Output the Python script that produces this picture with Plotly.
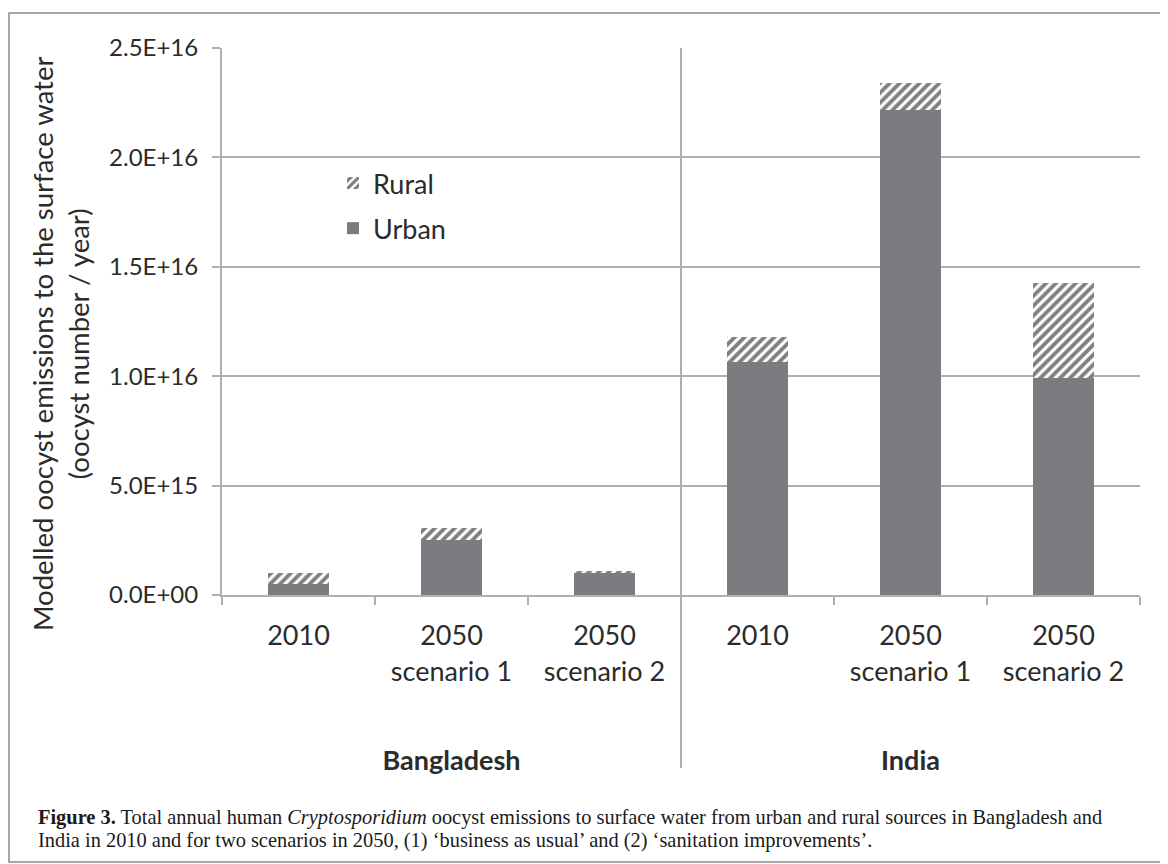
import plotly.graph_objects as go

# ---- data ----
groups = ["<br><br><b>Bangladesh</b>"] * 3 + ["<br><br><b>India</b>"] * 3
periods = ["2010", "2050<br>scenario 1", "2050<br>scenario 2"] * 2
urban = [0.52e15, 2.50e15, 1.02e15, 10.65e15, 22.15e15, 9.90e15]
rural = [0.50e15, 0.57e15, 0.08e15, 1.15e15, 1.25e15, 4.35e15]
y_tickvals = [0, 5e15, 1e16, 1.5e16, 2e16, 2.5e16]
y_ticktext = ["0.0E+00", "5.0E+15", "1.0E+16", "1.5E+16", "2.0E+16", "2.5E+16"]
y_title = "Modelled oocyst emissions to the surface water<br>(oocyst number / year)"
caption1 = ("<b>Figure 3.</b> Total annual human <i>Cryptosporidium</i> oocyst emissions to surface water "
            "from urban and rural sources in Bangladesh and")
caption2 = ("India in 2010 and for two scenarios in 2050, (1) \u2018business as usual\u2019 and "
            "(2) \u2018sanitation improvements\u2019.")

# ---- layout geometry (reference-image pixels; page body adds an 8px offset) ----
OFF = 8
W, H = 1168 - OFF, 864 - OFF
L, R, T, B = 222 - OFF, 1140 - OFF, 48 - OFF, 595 - OFF
pw, ph = R - L, B - T

def px_x(p):
    return (p - OFF - L) / pw

def px_y(p):
    return (B - (p - OFF)) / ph

FONT = "Lato"
TXT = "#2b2b2b"
GRID = "#b0b0b0"

fig = go.Figure()
fig.add_trace(go.Bar(
    x=[groups, periods], y=urban, name="Urban", legendrank=2, legendgroup="u",
    marker=dict(color="#7b7c80", line=dict(width=0)),
))
fig.add_trace(go.Bar(
    x=[groups, periods], y=rural, name="Rural", legendrank=1, legendgroup="r",
    marker=dict(color="white", line=dict(width=0),
                pattern=dict(shape="/", fgcolor="#000000", bgcolor="white",
                             size=7, solidity=0.55)),
))

fig.update_layout(
    width=W, height=H,
    margin=dict(l=L, r=W - R, t=T, b=H - B, autoexpand=False),
    paper_bgcolor="white", plot_bgcolor="white",
    barmode="stack", bargap=0.6,
    font=dict(family=FONT, size=25, color=TXT),
    legend=dict(x=px_x(333), y=px_y(159), xanchor="left", yanchor="top",
                traceorder="grouped", tracegroupgap=7,
                font=dict(size=27, color=TXT), bgcolor="rgba(0,0,0,0)"),
    showlegend=True,
)
fig.update_yaxes(
    range=[0, 2.5e16], tickvals=y_tickvals, ticktext=y_ticktext,
    showgrid=True, gridcolor=GRID, gridwidth=2,
    showline=True, linecolor=GRID, linewidth=2,
    ticks="outside", ticklen=8, tickcolor=GRID, tickwidth=2,
    ticklabelstandoff=9,
    tickfont=dict(size=24, color=TXT), zeroline=False,
)
fig.update_xaxes(
    type="multicategory", showline=True, linecolor=GRID, linewidth=2,
    ticks="outside", tickson="boundaries", ticklen=8, tickcolor=GRID, tickwidth=2,
    ticklabelstandoff=16,
    showdividers=False, tickfont=dict(size=27, color=TXT),
)

# y-axis title
fig.add_annotation(text=y_title, xref="paper", yref="paper", x=px_x(61), y=px_y(344),
                   xanchor="center", yanchor="middle", textangle=-90, showarrow=False,
                   font=dict(size=27.5, color=TXT))

# divider between country groups
fig.add_shape(type="line", xref="x domain", yref="y domain",
              x0=0.5, x1=0.5, y0=px_y(768), y1=1,
              line=dict(color=GRID, width=2))
# outer frame
fig.add_shape(type="rect", xref="paper", yref="paper",
              x0=px_x(9), x1=px_x(1165), y0=px_y(862), y1=px_y(13),
              line=dict(color="#8a8a8a", width=1.5), layer="below")

for txt, yp in [(caption1, 817), (caption2, 840)]:
    fig.add_annotation(text=txt, xref="paper", yref="paper", x=px_x(36), y=px_y(yp),
                       xanchor="left", yanchor="middle", showarrow=False, align="left",
                       font=dict(family="Liberation Serif", size=20.4, color="#1a1a1a"))

fig.write_html("out.html")
